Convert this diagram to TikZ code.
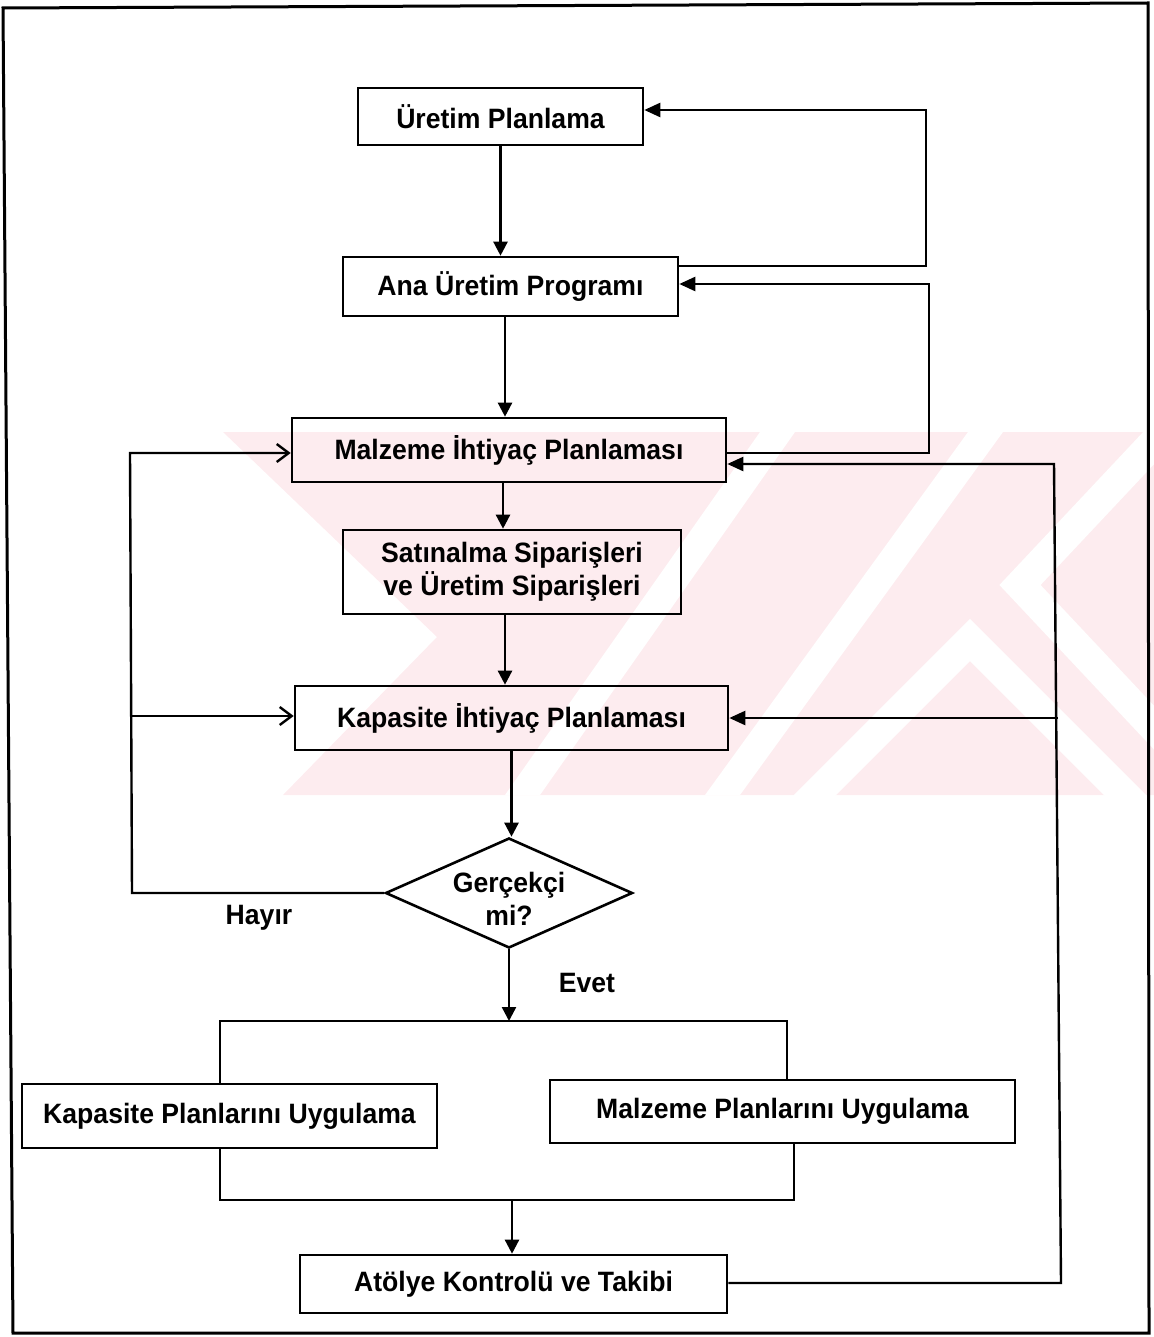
\documentclass[tikz,border=0pt]{standalone}
\usepackage{fontspec}
\newfontfamily\labelfont{Liberation Sans}[FakeStretch=0.95]
\newcommand\boxfont{\labelfont\bfseries\fontsize{14}{16.5}\selectfont}
\usetikzlibrary{arrows.meta,shapes.geometric}
\definecolor{wm}{RGB}{253,236,239}

\begin{document}
\begin{tikzpicture}[x=0.5pt,y=-0.5pt,
  box/.style={draw, line width=1.3pt, inner sep=0pt, align=center, font=\boxfont},
  link/.style={line width=1.2pt},
  down/.style={link, -{Triangle[length=7pt,width=7pt]}},
  back/.style={link, -{Triangle[length=8pt,width=7pt]}},
  barb/.style={link, -{Straight Barb[length=6pt,width=9pt,line width=1.2pt]}}]

\useasboundingbox (0,0) rectangle (1154,1337);

% faint background stamp
\begin{scope}
  \clip (190,432) rectangle (1154,795);
  \fill[wm] (223,432) -- (1154,432) -- (1154,795) -- (283,795) -- (437,637) -- cycle;
  \fill[white] (505,795) -- (540,795) -- (795,432) -- (760,432) -- cycle;
  \fill[white] (705,795) -- (740,795) -- (1003,432) -- (968,432) -- cycle;
  \draw[white, line width=15pt] (790,820) -- (970,640) -- (1150,820);
  \draw[white, line width=15pt] (1175,420) -- (1020,585) -- (1175,750);
\end{scope}

% page frame
\draw[line width=1.5pt] (3,8) -- (1148,3) -- (1149,1333) -- (13,1333) -- cycle;

% process boxes
\node[box, minimum width=142.5pt, minimum height=28.5pt] (b1) at (500.5,116.5) {Üretim Planlama};
\node[box, minimum width=167.5pt, minimum height=29.5pt] (b2) at (510.5,286.5) {Ana Üretim Programı};
\node[box, minimum width=217pt, minimum height=32pt] (b3) at (509,450) {Malzeme İhtiyaç Planlaması};
\node[box, minimum width=169pt, minimum height=42pt] (b4) at (512,572) {Satınalma Siparişleri\\ve Üretim Siparişleri};
\node[box, minimum width=216.5pt, minimum height=32pt] (b5) at (511.5,718) {Kapasite İhtiyaç Planlaması};
\node[draw, diamond, line width=1.3pt, inner sep=0pt, minimum width=123.5pt, minimum height=55pt] (dia) at (509,893) {};
\node[font=\boxfont, align=center, inner sep=0pt] (diatext) at (509,899) {Gerçekçi\\mi?};
\node[box, minimum width=207.5pt, minimum height=32pt] (b6) at (229.5,1116) {Kapasite Planlarını Uygulama};
\node[box, minimum width=232.5pt, minimum height=31.5pt] (b7) at (782.5,1111.5) {Malzeme Planlarını Uygulama};
\node[box, minimum width=213.5pt, minimum height=29pt] (b8) at (513.5,1284) {Atölye Kontrolü ve Takibi};

\node[font=\boxfont] (hayir) at (259,918) {Hayır};
\node[font=\boxfont] (evet) at (587,983) {Evet};

% main flow
\draw[down] (b1.south) -- (b1.south |- b2.north);
\draw[down] ([xshift=-2.75pt]b2.south) -- ([xshift=-2.75pt]b2.south |- b3.north);
\draw[down] ([xshift=-3pt]b3.south) -- ([xshift=-3pt]b3.south |- b4.north);
\draw[down] ([xshift=-3.5pt]b4.south) -- ([xshift=-3.5pt]b4.south |- b5.north);
\draw[down] (b5.south) -- (b5.south |- dia.north);

% split into the two execution boxes
\coordinate (sl) at (220,1021);
\coordinate (sr) at (787,1021);
\coordinate (sm) at (510,1021);
\draw[down] (dia.south) -- (dia.south |- sm);
\draw[link] (b6.north -| sl) -- (sl) -- (sr) -- (b7.north -| sr);

% join towards shop floor control
\coordinate (jl) at (220,1200);
\coordinate (jr) at (794,1200);
\coordinate (jm) at (512,1200);
\draw[link] (b6.south -| jl) -- (jl) -- (jr) -- (b7.south -| jr);
\draw[down] (jm) -- (jm |- b8.north);

% feedback on the right
\coordinate (u1) at (926,266);
\coordinate (u2) at (926,110);
\draw[back] (b2.east |- u1) -- (u1) -- (u2) -- (b1.east |- u2);
\coordinate (v1) at (929,453);
\coordinate (v2) at (929,284);
\draw[back] (b3.east |- v1) -- (v1) -- (v2) -- (b2.east |- v2);
\coordinate (w1) at (1061,1283);
\coordinate (w2) at (1054,464);
\coordinate (w3) at (1058,718);
\draw[back] (b8.east |- w1) -- (w1) -- (w2) -- (b3.east |- w2);
\draw[back] (w3) -- (b5.east |- w3);

% "Hayır" loop on the left
\coordinate (l1) at (132,895);
\coordinate (l2) at (130,453);
\coordinate (l3) at (131,716);
\draw[barb] (dia.west) -- (l1 |- dia.west) -- (l2) -- (b3.west |- l2);
\draw[barb] (l3) -- (b5.west |- l3);

\end{tikzpicture}
\end{document}
